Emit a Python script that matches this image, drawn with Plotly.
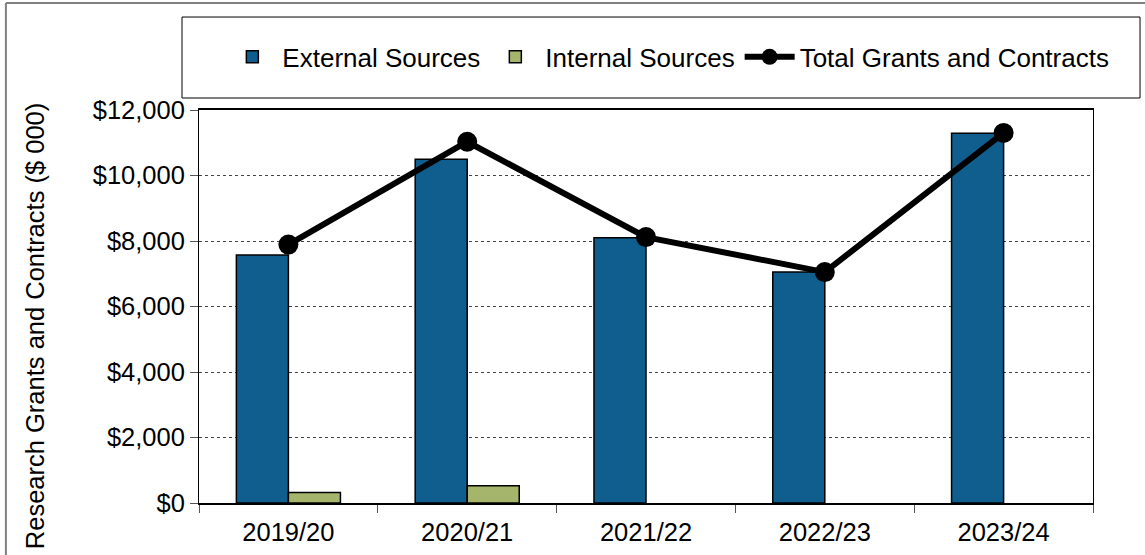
import plotly.graph_objects as go

years = ["2019/20", "2020/21", "2021/22", "2022/23", "2023/24"]
external = [7570, 10500, 8100, 7050, 11290]
internal = [320, 530, None, None, None]
total = [7890, 11030, 8120, 7050, 11300]

FONT = "Liberation Sans, Arial, sans-serif"
FS = 25.5

fig = go.Figure()
fig.add_trace(go.Bar(x=years, y=external, name="External Sources",
                     marker=dict(color="#105E8E", line=dict(color="black", width=1.5))))
fig.add_trace(go.Bar(x=years, y=internal, name="Internal Sources",
                     marker=dict(color="#A6B56C", line=dict(color="black", width=1.5))))
fig.add_trace(go.Scatter(x=years, y=total, name="Total Grants and Contracts",
                         mode="lines+markers",
                         line=dict(color="black", width=6),
                         marker=dict(color="black", size=20)))

fig.update_layout(
    width=1145, height=555,
    margin=dict(l=199, r=52, t=110, b=52, autoexpand=False),
    paper_bgcolor="white", plot_bgcolor="white",
    font=dict(family=FONT, size=FS, color="black"),
    barmode="group", bargap=0.418, bargroupgap=0,
    showlegend=True,
    legend=dict(orientation="h", x=0.525, y=1.135, xanchor="center", yanchor="middle",
                font=dict(size=26), bgcolor="rgba(0,0,0,0)", traceorder="normal",
                itemwidth=50),
    shapes=[
        dict(type="rect", xref="paper", yref="paper", x0=-0.019, x1=1.0526, y0=1.0305, y1=1.2366,
             line=dict(color="black", width=1)),
        dict(type="line", xref="paper", yref="paper", x0=-0.216, x1=1.06, y0=1.272, y1=1.272,
             line=dict(color="#808080", width=2)),
        dict(type="line", xref="paper", yref="paper", x0=-0.216, x1=-0.216, y0=1.272, y1=-0.14,
             line=dict(color="#808080", width=2)),
    ],
    annotations=[
        dict(text="Research Grants and Contracts ($ 000)", textangle=-90, xref="paper", yref="paper",
             x=-0.1834, y=0.45, xanchor="center", yanchor="middle", showarrow=False,
             font=dict(size=25.5, color="black")),
    ],
)
fig.update_xaxes(type="category", showline=True, linecolor="black", linewidth=1.5, mirror=True,
                 ticks="outside", tickson="boundaries", ticklen=8, tickcolor="#555",
                 showgrid=False, tickfont=dict(size=FS), ticklabelstandoff=6)
fig.update_yaxes(range=[0, 12000], dtick=2000, tickprefix="$", tickformat=",",
                 showline=True, linecolor="black", linewidth=1, mirror=True,
                 ticks="outside", ticklen=8, tickcolor="#555",
                 showgrid=True, gridcolor="#444", griddash="dot", gridwidth=1,
                 tickfont=dict(size=FS))

fig.write_html("out.html", config={"displayModeBar": False},
               post_script="document.body.style.margin='0';")
